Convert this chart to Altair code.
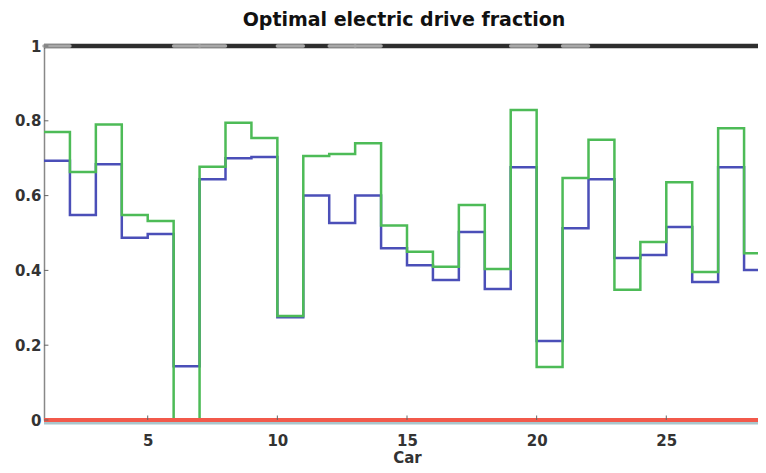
import altair as alt
import pandas as pd

cars = list(range(1, 29))
green = [0.77, 0.663, 0.79, 0.548, 0.532, 0.0, 0.677, 0.795, 0.754, 0.278,
         0.706, 0.711, 0.74, 0.52, 0.45, 0.41, 0.575, 0.404, 0.829, 0.142,
         0.647, 0.749, 0.348, 0.476, 0.636, 0.396, 0.78, 0.446]
blue = [0.693, 0.548, 0.684, 0.487, 0.497, 0.144, 0.644, 0.70, 0.703, 0.275,
        0.60, 0.527, 0.60, 0.459, 0.414, 0.374, 0.503, 0.35, 0.676, 0.211,
        0.513, 0.644, 0.433, 0.441, 0.516, 0.369, 0.676, 0.401]
gray_cars = [1, 6, 7, 10, 12, 13, 19, 21]
x_ticks = [5, 10, 15, 20, 25]
y_ticks = [0, 0.2, 0.4, 0.6, 0.8, 1]
x_min, x_max = 1, 29

# stairs: append end point so the last step spans to x_max
xs = cars + [x_max]
df_green = pd.DataFrame({"car": xs, "v": green + [green[-1]]})
df_blue = pd.DataFrame({"car": xs, "v": blue + [blue[-1]]})
df_gray = pd.DataFrame({"car": gray_cars, "car2": [c + 1 for c in gray_cars], "v": [1] * len(gray_cars)})
df_lim = pd.DataFrame({"a": [x_min], "b": [x_max]})
df_yt = pd.DataFrame({"y": y_ticks, "x": [x_min] * len(y_ticks), "x2": [x_min + 0.17] * len(y_ticks)})
df_xt = pd.DataFrame({"x": x_ticks, "y": [0] * len(x_ticks), "y2": [0.012] * len(x_ticks)})

FONT = "DejaVu Sans"
# the plotted x range runs a little past the visible right edge (as in the original, cropped)
xs_scale = alt.Scale(domain=[x_min, x_max], nice=False, zero=False, range=[0, 726])
ys_scale = alt.Scale(domain=[0, 1], nice=False)

xax = alt.Axis(values=x_ticks, title="Car", grid=False, domain=False, ticks=False,
               labelFontSize=15, labelColor="#333", labelPadding=13, labelFontWeight="bold",
               titleFontSize=15, titleFontWeight="bold", titleColor="#333", titlePadding=2,
               labelFont=FONT, titleFont=FONT)
yax = alt.Axis(values=y_ticks, format="~g", title=None, grid=False, domainColor="#888",
               domainWidth=1.5, ticks=False, labelFontSize=15, labelColor="#333",
               labelFontWeight="bold", labelPadding=3, labelFont=FONT)

blue_line = alt.Chart(df_blue).mark_line(interpolate="step-after", color="#4b4fb8", strokeWidth=2.5).encode(
    x=alt.X("car:Q", scale=xs_scale, axis=xax), y=alt.Y("v:Q", scale=ys_scale, axis=yax))
green_line = alt.Chart(df_green).mark_line(interpolate="step-after", color="#4dbb57", strokeWidth=2.5).encode(
    x=alt.X("car:Q", scale=xs_scale), y=alt.Y("v:Q", scale=ys_scale))

cyan_zero = alt.Chart(df_lim).mark_rule(color="#a9c6cc", strokeWidth=3, yOffset=3).encode(
    x=alt.X("a:Q", scale=xs_scale), x2="b:Q", y=alt.datum(0, scale=ys_scale))
red_zero = alt.Chart(df_lim).mark_rule(color="#f2594b", strokeWidth=4).encode(
    x=alt.X("a:Q", scale=xs_scale), x2="b:Q", y=alt.datum(0, scale=ys_scale))
black_one = alt.Chart(df_lim).mark_rule(color="#2e2e2e", strokeWidth=4.5).encode(
    x=alt.X("a:Q", scale=xs_scale), x2="b:Q", y=alt.datum(1, scale=ys_scale))
gray_one = alt.Chart(df_gray).mark_rule(color="#a8a8a8", strokeWidth=3.5, strokeCap="round").encode(
    x=alt.X("car:Q", scale=xs_scale), x2="car2:Q", y=alt.Y("v:Q", scale=ys_scale))

ytick = alt.Chart(df_yt).mark_rule(color="#666", strokeWidth=1).encode(
    x=alt.X("x:Q", scale=xs_scale), x2="x2:Q", y=alt.Y("y:Q", scale=ys_scale))
xtick = alt.Chart(df_xt).mark_rule(color="#666", strokeWidth=1).encode(
    x=alt.X("x:Q", scale=xs_scale), y=alt.Y("y:Q", scale=ys_scale), y2="y2:Q")

chart = alt.layer(
    blue_line, green_line, cyan_zero, red_zero, black_one, gray_one, ytick, xtick
).properties(
    width=714, height=374,
    title=alt.TitleParams("Optimal electric drive fraction", fontSize=19, fontWeight="bold",
                          font=FONT, color="#111", anchor="middle", offset=9, dx=3),
    autosize=alt.AutoSizeParams(type="none"),
    padding={"left": 36, "top": 38, "right": 0, "bottom": 45},
).configure_view(stroke=None).configure(background="white")

chart.save("out.html", embed_options={"renderer": "svg", "actions": False})
